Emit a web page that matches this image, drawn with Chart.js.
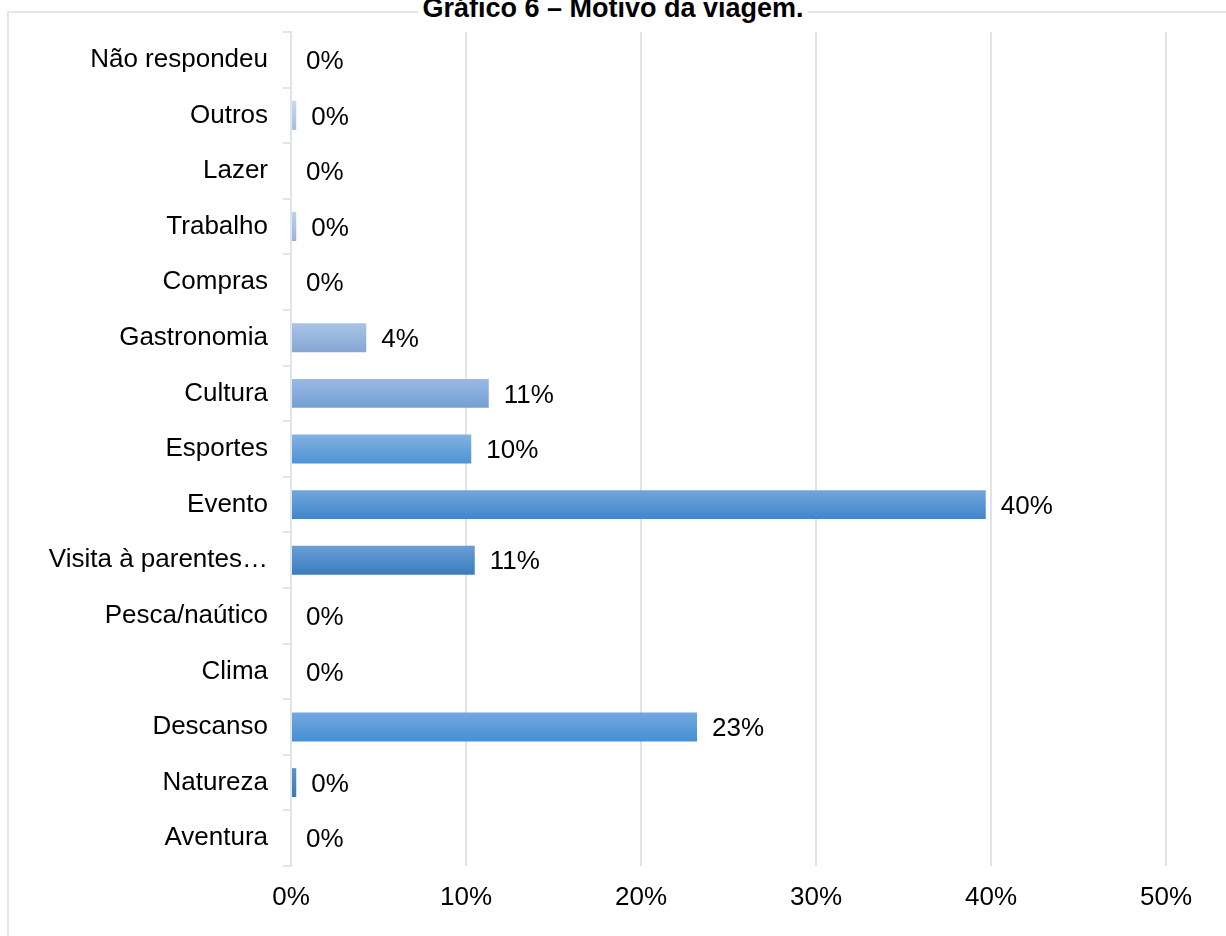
<!DOCTYPE html>
<html>
<head>
<meta charset="utf-8">
<script src="https://cdn.jsdelivr.net/npm/chart.js@4.4.0/dist/chart.umd.min.js"></script>
<style>
  html, body { margin: 0; padding: 0; background: #fff; }
  #wrap { position: relative; width: 1226px; height: 936px; overflow: hidden; }
  #frame { position: absolute; left: 7px; top: 11px; width: 1240px; height: 960px;
           border-left: 2px solid #e1e5ec; border-top: 2px solid #e1e5ec; }
  #title { position: absolute; left: 0; width: 1226px; top: -5px; text-align: center;
           font: bold 27px "Liberation Sans", Arial, sans-serif; line-height: 27px; color: #000; }
  #title span { background: #fff; padding: 0 4px; }
  canvas { position: absolute; left: 0; top: 0; }
</style>
</head>
<body>
<div id="wrap">
  <div id="frame"></div>
  <canvas id="chart" width="1226" height="936"></canvas>
  <div id="title"><span>Gráfico 6 – Motivo da viagem.</span></div>
</div>
<script>
// categories, top to bottom as shown
var categories = ['Não respondeu', 'Outros', 'Lazer', 'Trabalho', 'Compras', 'Gastronomia', 'Cultura',
  'Esportes', 'Evento', 'Visita à parentes…', 'Pesca/naútico', 'Clima', 'Descanso', 'Natureza', 'Aventura'];
// share of answers, %
var values = [0, 0.3, 0, 0.3, 0, 4.3, 11.3, 10.3, 39.7, 10.5, 0, 0, 23.2, 0.3, 0];
var xTicks = [0, 10, 20, 30, 40, 50];

// gradient colours per bar (top, bottom)
var topColors = ['#b8cdea', '#c9d8ee', '#b8cdea', '#bccde9', '#aac3e6', '#a8c3e6', '#98b9e4',
  '#85b2e2', '#72a6dc', '#6a9fd5', '#72a6dc', '#72a6dc', '#73a8df', '#5b91cc', '#5b91cc'];
var bottomColors = ['#9db6dd', '#a6bde1', '#9db6dd', '#9db4dc', '#88a8d6', '#86a6d4', '#73a0d4',
  '#4d93d5', '#3f86cb', '#3b7cbf', '#4590d3', '#4590d3', '#4590d3', '#3e78b8', '#3e78b8'];

var FONT = '"Liberation Sans", Arial, sans-serif';
Chart.defaults.font.family = FONT;
Chart.defaults.font.size = 26;
Chart.defaults.color = '#000';

var barPct = 0.52;

function barFill(c) {
  var chart = c.chart;
  var area = chart.chartArea;
  if (!area || !chart.scales.y) return topColors[c.dataIndex];
  var yc = chart.scales.y.getPixelForValue(c.dataIndex);
  var half = area.height / categories.length * barPct / 2;
  var g = chart.ctx.createLinearGradient(0, yc - half, 0, yc + half);
  g.addColorStop(0, topColors[c.dataIndex]);
  g.addColorStop(1, bottomColors[c.dataIndex]);
  return g;
}

// value labels at the end of each bar
var valueLabels = {
  id: 'valueLabels',
  afterDatasetsDraw: function(chart) {
    var ctx = chart.ctx;
    var meta = chart.getDatasetMeta(0);
    ctx.save();
    ctx.font = '26px ' + FONT;
    ctx.fillStyle = '#000';
    ctx.textAlign = 'left';
    ctx.textBaseline = 'middle';
    meta.data.forEach(function(bar, i) {
      ctx.fillText(Math.round(values[i]) + '%', bar.x + 15, bar.y + 2);
    });
    ctx.restore();
  }
};

new Chart(document.getElementById('chart'), {
  type: 'bar',
  data: {
    labels: categories,
    datasets: [{
      data: values,
      backgroundColor: barFill,
      borderWidth: 0,
      barPercentage: barPct,
      categoryPercentage: 1
    }]
  },
  plugins: [valueLabels],
  options: {
    indexAxis: 'y',
    responsive: false,
    animation: false,
    layout: { padding: { top: 32, right: 60, bottom: 0, left: 0 } },
    plugins: { legend: { display: false }, tooltip: { enabled: false } },
    scales: {
      x: {
        min: 0,
        max: 50,
        afterBuildTicks: function(s) { s.ticks = xTicks.map(function(v) { return { value: v }; }); },
        afterFit: function(s) { s.height = 70; },
        grid: { color: '#dfe3ea', lineWidth: 2, drawTicks: false },
        border: { display: false },
        ticks: { padding: 16, callback: function(v) { return v + '%'; } }
      },
      y: {
        afterFit: function(s) { s.width = 291; },
        grid: { drawOnChartArea: false, drawTicks: true, tickLength: 8, offset: true, color: '#dfe3ea', lineWidth: 2 },
        border: { display: true, color: '#dfe3ea', width: 2 },
        ticks: { padding: 15, autoSkip: false }
      }
    }
  }
});
</script>
</body>
</html>
